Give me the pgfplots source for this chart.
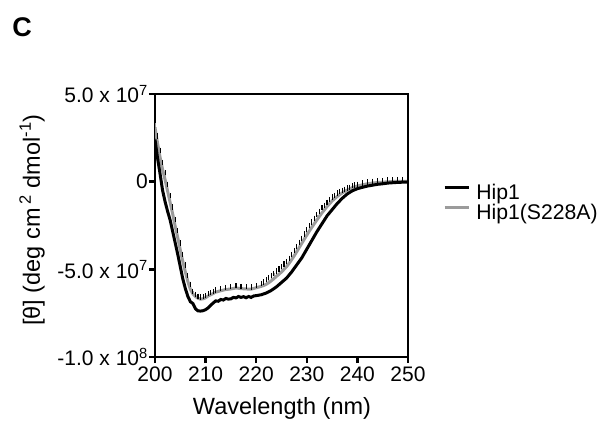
\documentclass[border=0pt]{standalone}
\usepackage{fontspec}
\setmainfont{Liberation Sans}
\usepackage{pgfplots}
\pgfplotsset{compat=1.18}
\definecolor{grayline}{RGB}{155,155,155}
\begin{document}
\begin{tikzpicture}[font=\fontsize{20.5bp}{24bp}\selectfont]
\path[use as bounding box] (0,0) rectangle (599bp,427bp);
\node[font=\fontsize{27bp}{30bp}\selectfont\bfseries, inner sep=0pt] at (22bp,399.5bp) {C};
\begin{axis}[
  at={(155bp,70bp)}, anchor=south west,
  scale only axis, width=253bp, height=263bp,
  xmin=200, xmax=250, ymin=-1e8, ymax=5e7,
  xtick={200,210,220,230,240,250},
  ytick={-1e8,-5e7,0,5e7},
  yticklabels={-1.0 x 10\textsuperscript{8}, -5.0 x 10\textsuperscript{7}, 0, 5.0 x 10\textsuperscript{7}},
  scaled y ticks=false,
  /pgf/number format/assume math mode=true,
  tick label style={font=\fontsize{21bp}{24bp}\selectfont},
  yticklabel style={inner sep=1bp},
  axis line style={line width=2.6bp},
  tick style={line width=2.4bp, black},
  tick align=outside, major tick length=6bp,
  xtick pos=bottom, ytick pos=left,
  xlabel={Wavelength (nm)},
  ylabel={[θ] (deg cm\,\textsuperscript{2} dmol\textsuperscript{-1})},
  every axis x label/.style={at={(axis description cs:0.502,-0.194)}, anchor=center,
    font=\fontsize{23.5bp}{28bp}\selectfont},
  every axis y label/.style={at={(axis description cs:-0.486,0.521)}, anchor=center, rotate=90,
    font=\fontsize{23.5bp}{28bp}\selectfont},
  legend style={at={(axis description cs:1.138,0.578)}, anchor=west, draw=none, fill=none,
    inner sep=0pt, row sep=0pt, column sep=6bp,
    nodes={inner sep=0pt, anchor=west, text height=14.5bp, text depth=5.5bp,
      font=\fontsize{21.2bp}{26bp}\selectfont}},
  legend cell align=left,
  reverse legend,
  legend image code/.code={\draw[#1, line width=3.2bp] (0bp,7.6bp) -- (24bp,7.6bp);},
]
\addplot[grayline, line width=3bp, mark=none,
  error bars/.cd, y dir=plus, y explicit,
  error bar style={line width=0.8bp, grayline},
  error mark options={black, line width=1.1bp, mark size=2.6bp}]
table[x index=0, y index=1, y error index=2] {
200 3.1e7 4e6
200.5 2.2e7 4e6
201 1.4e7 4e6
201.5 0.7e7 4e6
202 0.1e7 4e6
202.5 -0.55e7 4e6
203 -1.2e7 4e6
203.5 -1.85e7 4e6
204 -2.55e7 4e6
204.5 -3.2e7 4e6
205 -3.9e7 4e6
205.5 -4.55e7 4e6
206 -5.15e7 4e6
206.5 -5.7e7 3.5e6
207 -6.15e7 3e6
207.5 -6.4e7 1.5e6
208 -6.55e7 1.2e6
208.5 -6.65e7 1.2e6
209 -6.7e7 1.2e6
209.5 -6.68e7 1.2e6
210 -6.62e7 1.2e6
210.5 -6.52e7 1.2e6
211 -6.45e7 1.2e6
211.5 -6.38e7 1.2e6
212 -6.3e7 1.2e6
213 -6.22e7 1.2e6
214 -6.15e7 1.2e6
215 -6.12e7 1.2e6
216 -6.06e7 1.2e6
217 -6.1e7 1.2e6
218 -6.12e7 1.2e6
219 -6.13e7 1.2e6
220 -6.05e7 1.2e6
221 -5.97e7 1.5e6
221.5 -5.92e7 2e6
222 -5.85e7 2.5e6
222.5 -5.76e7 3e6
223 -5.65e7 3e6
223.5 -5.53e7 3e6
224 -5.4e7 3e6
224.5 -5.28e7 3e6
225 -5.15e7 3e6
225.5 -5.0e7 3e6
226 -4.85e7 3e6
226.5 -4.66e7 3e6
227 -4.45e7 3e6
227.5 -4.23e7 3e6
228 -4.0e7 3e6
228.5 -3.76e7 3e6
229 -3.52e7 3e6
229.5 -3.28e7 3e6
230 -3.05e7 3e6
230.5 -2.82e7 3e6
231 -2.6e7 3e6
231.5 -2.39e7 3e6
232 -2.18e7 3e6
232.5 -1.98e7 3e6
233 -1.78e7 3e6
233.5 -1.6e7 2.5e6
234 -1.42e7 2.5e6
234.5 -1.26e7 2.5e6
235 -1.1e7 2.2e6
235.5 -0.97e7 2e6
236 -0.85e7 2e6
236.5 -0.74e7 1.8e6
237 -0.64e7 1.5e6
237.5 -0.56e7 1.3e6
238 -0.48e7 1.2e6
238.5 -0.41e7 1e6
239 -0.34e7 1e6
239.5 -0.29e7 1e6
240 -0.25e7 1e6
241 -0.18e7 1e6
242 -0.12e7 1e6
243 -0.08e7 1e6
244 -0.05e7 1e6
245 -0.03e7 1e6
246 -0.01e7 1e6
247 0.01e7 1e6
248 0.02e7 1e6
249 0.02e7 1e6
250 0.02e7 1e6
};
\addlegendentry{Hip1(S228A)}
\addplot[black, line width=3bp, mark=none] coordinates {
(200,2.4e7) (200.5,1.35e7) (201,0.45e7) (201.5,-0.5e7) (202,-1.15e7) (202.5,-1.7e7)
(203,-2.2e7) (203.5,-2.85e7) (204,-3.5e7) (204.5,-4.15e7) (205,-4.85e7) (205.5,-5.55e7)
(206,-6.1e7) (206.5,-6.55e7) (207,-6.85e7) (207.5,-6.95e7) (208,-7.25e7) (208.5,-7.37e7)
(209,-7.38e7) (209.5,-7.36e7) (210,-7.3e7) (210.5,-7.2e7) (211,-7.05e7) (211.5,-6.92e7)
(212,-6.8e7) (212.5,-6.82e7) (213,-6.72e7) (213.5,-6.75e7) (214,-6.66e7) (214.5,-6.7e7)
(215,-6.68e7) (215.5,-6.6e7) (216,-6.63e7) (216.5,-6.55e7) (217,-6.6e7) (217.5,-6.56e7)
(218,-6.62e7) (218.5,-6.55e7) (219,-6.6e7) (219.5,-6.52e7) (220,-6.5e7) (221,-6.45e7)
(222,-6.35e7) (223,-6.2e7) (224,-6.0e7) (225,-5.75e7) (226,-5.5e7) (227,-5.15e7)
(228,-4.75e7) (229,-4.35e7) (230,-3.85e7) (231,-3.35e7) (232,-2.85e7) (233,-2.4e7)
(234,-1.95e7) (235,-1.6e7) (236,-1.25e7) (237,-0.95e7) (238,-0.7e7) (239,-0.52e7)
(240,-0.4e7) (241,-0.32e7) (242,-0.25e7) (243,-0.2e7) (244,-0.15e7) (245,-0.12e7)
(246,-0.08e7) (247,-0.06e7) (248,-0.04e7) (249,-0.03e7) (250,-0.02e7)
};
\addlegendentry{Hip1}
\end{axis}
\end{tikzpicture}
\end{document}
